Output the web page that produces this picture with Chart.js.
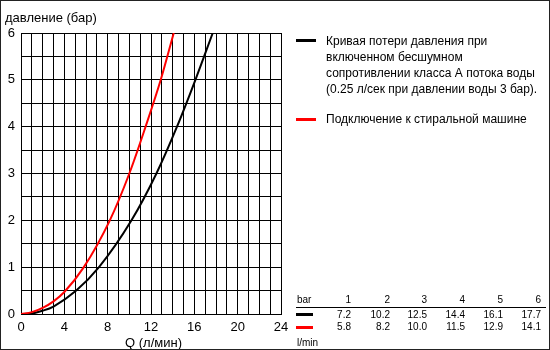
<!DOCTYPE html>
<html>
<head>
<meta charset="utf-8">
<script src="https://cdn.jsdelivr.net/npm/chart.js@4"></script>
<style>
  html, body { margin: 0; padding: 0; background: #fff; }
  #wrap { position: relative; width: 550px; height: 350px; box-sizing: border-box;
          border: 1px solid #222; overflow: hidden;
          font-family: "Liberation Sans", Arial, sans-serif; color: #000; }
  #chart { position: absolute; left: 0; top: 0; }
  .t { position: absolute; white-space: nowrap; line-height: 1; }
  .sw { position: absolute; height: 3px; }
</style>
</head>
<body>
<div id="wrap">
  <canvas id="chart" width="550" height="350"></canvas>
  <div class="t" id="ytitle" style="left:4px; top:10px; font-size:13px;">давление (бар)</div>
  <div class="t" id="xtitle" style="left:124px; top:335px; font-size:13px;">Q (л/мин)</div>
  <div id="legend"></div>
  <div id="table"></div>
</div>
<script>
// ── Данные ─────────────────────────────────────────────────
const bars      = [1, 2, 3, 4, 5, 6];
const flowBlack = [7.2, 10.2, 12.5, 14.4, 16.1, 17.7];
const flowRed   = [5.8, 8.2, 10.0, 11.5, 12.9, 14.1];

// начало кривых
const lowBlackQ = [0, 1, 2, 3, 5.1];
const lowBlackP = [0, 0.01, 0.07, 0.16, 0.5];
const lowRedQ   = [0, 1, 2, 3, 4];
const lowRedP   = [0, 0.04, 0.13, 0.27, 0.47];

const xTicks = [0, 4, 8, 12, 16, 20, 24];
const yTicks = [0, 1, 2, 3, 4, 5, 6];

const legendBlack = ['Кривая потери давления при', 'включенном бесшумном',
                     'сопротивлении класса А потока воды', '(0.25 л/сек при давлении воды 3 бар).'];
const legendRed = ['Подключение к стиральной машине'];

const toPoints = (qs, ps) => qs.map((q, i) => ({ x: q, y: ps[i] }));
const blackPts = toPoints(lowBlackQ, lowBlackP).concat(toPoints(flowBlack, bars));
const redPts   = toPoints(lowRedQ, lowRedP).concat(toPoints(flowRed, bars));

const FONT = { family: '"Liberation Sans", Arial, sans-serif', size: 13 };

new Chart(document.getElementById('chart').getContext('2d'), {
    type: 'line',
    data: {
        datasets: [
            { data: redPts, borderColor: '#ff0000', borderWidth: 2, pointRadius: 0,
              cubicInterpolationMode: 'monotone' },
            { data: blackPts, borderColor: '#000000', borderWidth: 2, pointRadius: 0,
              cubicInterpolationMode: 'monotone' },
        ]
    },
    options: {
        responsive: false,
        animation: false,
        events: [],
        layout: { padding: { left: 0, top: 32, right: 270, bottom: 0 } },
        plugins: { legend: { display: false }, tooltip: { enabled: false } },
        scales: {
            x: {
                type: 'linear', min: 0, max: 24,
                afterFit: s => { s.height = 37; },
                grid: { color: '#000', drawTicks: false },
                border: { color: '#000' },
                ticks: { stepSize: 1, autoSkip: false, maxRotation: 0, padding: 6,
                         color: '#000', font: FONT,
                         callback: v => xTicks.includes(v) ? String(v) : '' }
            },
            y: {
                min: 0, max: 6,
                afterFit: s => { s.width = 20; },
                grid: { color: '#000', drawTicks: false },
                border: { color: '#000' },
                ticks: { stepSize: 0.5, autoSkip: false, padding: 6,
                         color: '#000', font: FONT,
                         callback: v => yTicks.includes(v) ? String(v) : '' }
            }
        }
    }
});

// ── Легенда ────────────────────────────────────────────────
const legend = document.getElementById('legend');
function addSwatch(parent, x, y, w, color) {
    const d = document.createElement('div');
    d.className = 'sw';
    d.style.cssText = `left:${x}px; top:${y}px; width:${w}px; background:${color};`;
    parent.appendChild(d);
}
function addText(parent, text, x, y, size, align) {
    const d = document.createElement('div');
    d.className = 't';
    d.textContent = text;
    d.style.fontSize = size + 'px';
    d.style.top = (y - size / 2) + 'px';
    if (align === 'right') d.style.right = (550 - x) + 'px';
    else d.style.left = x + 'px';
    parent.appendChild(d);
}
addSwatch(legend, 295, 38, 20, '#000');
legendBlack.forEach((s, i) => addText(legend, s, 325, 40 + i * 16, 12));
addSwatch(legend, 295, 117, 20, '#ff0000');
legendRed.forEach(s => addText(legend, s, 325, 118, 12));

// ── Таблица ────────────────────────────────────────────────
const table = document.getElementById('table');
const colX = [352, 391, 428, 466, 504, 542];
addText(table, 'bar', 296, 299, 10);
bars.forEach((b, i) => addText(table, String(b), colX[i], 299, 10, 'right'));
const rule = document.createElement('div');
rule.style.cssText = 'position:absolute; left:295px; top:306px; width:250px; height:1px; background:#000;';
table.appendChild(rule);
addSwatch(table, 295, 312, 17, '#000');
flowBlack.forEach((v, i) => addText(table, v.toFixed(1), colX[i], 314, 10, 'right'));
addSwatch(table, 295, 325, 17, '#ff0000');
flowRed.forEach((v, i) => addText(table, v.toFixed(1), colX[i], 326, 10, 'right'));
addText(table, 'l/min', 296, 342, 10);
</script>
</body>
</html>
